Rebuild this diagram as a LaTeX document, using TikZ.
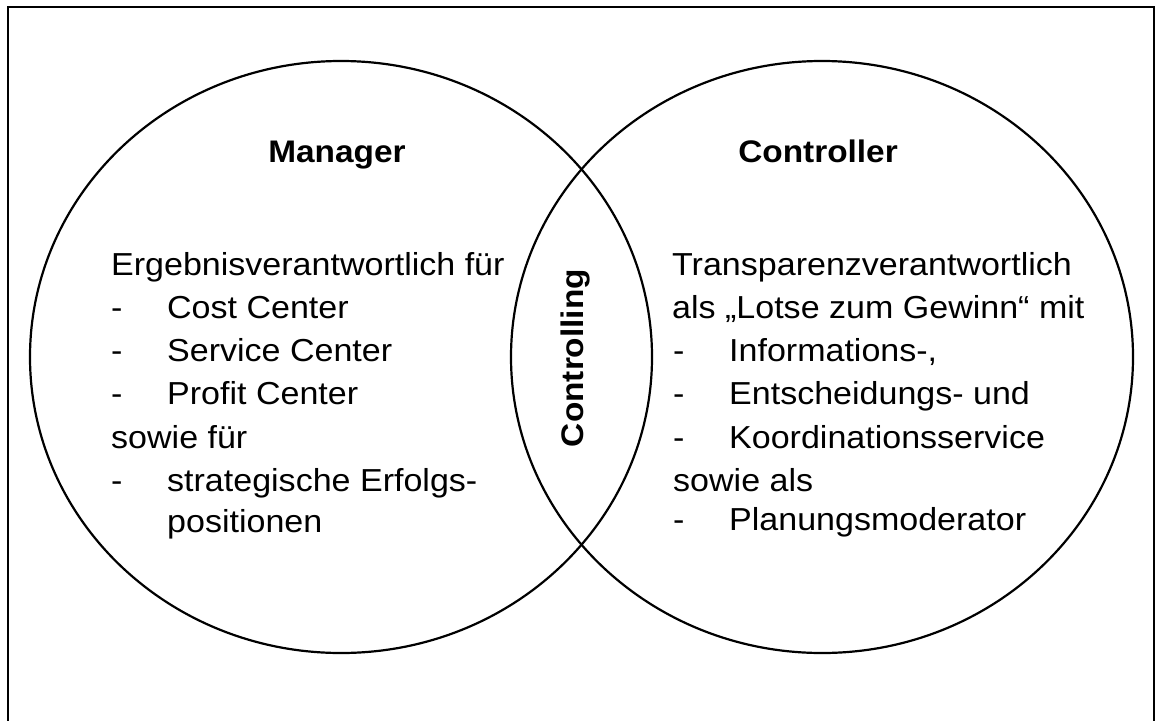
\documentclass[tikz,border=0pt]{standalone}
\usepackage{fontspec}
\setmainfont[FakeStretch=1.07]{Liberation Sans}
\usetikzlibrary{shapes.geometric}
\begin{document}
\begin{tikzpicture}[x=1pt,y=-1pt,
  frame/.style={line width=1.6pt},
  set/.style={draw, ellipse, line width=2.2pt, inner sep=0pt, minimum width=622pt, minimum height=592pt},
  head/.style={font=\fontsize{31.2}{40}\selectfont\bfseries, anchor=base, inner sep=0pt},
  txt/.style={font=\fontsize{31.8}{40}\selectfont, anchor=base west, inner sep=0pt}]
\useasboundingbox (0,0) rectangle (1158,720);
\coordinate (fbl) at (8,722);
\coordinate (ftl) at (8,7);
\coordinate (ftr) at (1154,7);
\coordinate (fbr) at (1154,722);
\draw[frame] (fbl) -- (ftl) -- (ftr) -- (fbr);
\node[set] (mgr) at (341,357) {};
\node[set] (ctr) at (822,357) {};
\node[head] (hmgr) at (337,162.5) {Manager};
\node[head] (hctr) at (818,162.5) {Controller};
\node[head, rotate=90] (hcon) at (583,358) {Controlling};
\newcommand{\dsh}[1]{\makebox[56pt][l]{-}#1}
\node[txt] (l1) at (111,275) {Ergebnisverantwortlich für};
\node[txt] (l2) at (111,318.3) {\dsh{Cost Center}};
\node[txt] (l3) at (111,361.6) {\dsh{Service Center}};
\node[txt] (l4) at (111,404.9) {\dsh{Profit Center}};
\node[txt] (l5) at (111,448.2) {sowie für};
\node[txt] (l6) at (111,491.5) {\dsh{strategische Erfolgs-}};
\node[txt] (l7) at (111,532) {\hspace*{56pt}positionen};
\node[txt] (r1) at (672,275) {Transparenzverantwortlich};
\node[txt] (r2) at (672,318.3) {als „Lotse zum Gewinn“ mit};
\node[txt] (r3) at (673,361.6) {\dsh{Informations-,}};
\node[txt] (r4) at (673,404.9) {\dsh{Entscheidungs- und}};
\node[txt] (r5) at (673,448.2) {\dsh{Koordinationsservice}};
\node[txt] (r6) at (673,491.5) {sowie als};
\node[txt] (r7) at (673,530) {\dsh{Planungsmoderator}};
\end{tikzpicture}
\end{document}
